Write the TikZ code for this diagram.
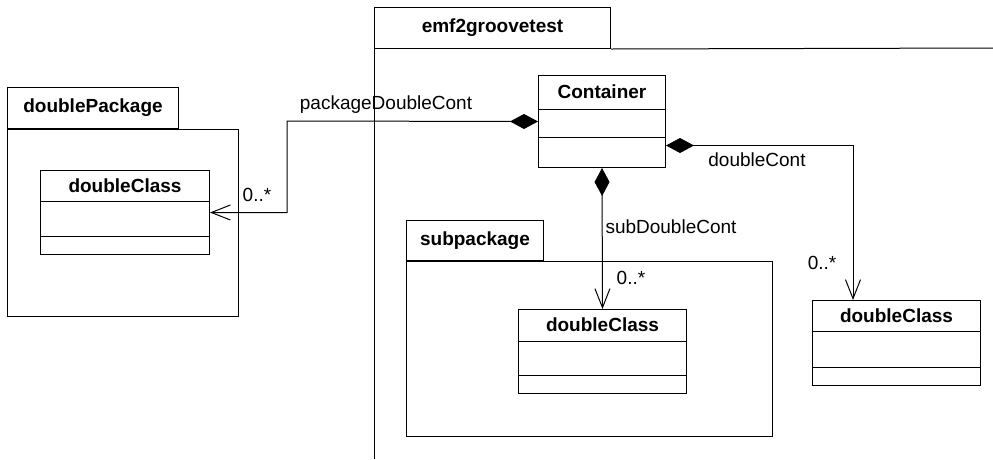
\documentclass[tikz,border=0pt]{standalone}
\usepackage{fontspec}
\setmainfont{Liberation Sans}
\usetikzlibrary{arrows.meta,calc}
\begin{document}
\begin{tikzpicture}[x=1pt,y=-1pt,line width=1pt,
  every node/.style={font=\fontsize{19}{21}\selectfont,inner sep=0pt},
  lbl/.style={font=\fontsize{19}{21}\selectfont},
  ttl/.style={font=\fontsize{19}{21}\selectfont\bfseries},
  cls/.style={draw,rectangle,minimum width=168pt,minimum height=84pt,anchor=north west},
  pkgtab/.style={draw,rectangle,anchor=north west,font=\fontsize{19}{21}\selectfont\bfseries},
  comp/.style={{Diamond[length=28pt,width=15pt,fill=black]}-{Straight Barb[length=19pt,width=15pt]}}]
\useasboundingbox (0,0) rectangle (993,459);

% outer package emf2groovetest
\node[pkgtab,minimum width=236pt,minimum height=41pt] (emftab) at (374,7) {emf2groovetest};
\coordinate (emfbl) at (374,459);
\coordinate (emftr) at (993,48);
\draw (emftab.south west) -- (emfbl);
\draw (emftab.south east) -- (emftr);

% doublePackage
\node[pkgtab,minimum width=171pt,minimum height=41pt] (dptab) at (7,87) {doublePackage};
\coordinate (dpbr) at (238,316);
\draw (dptab.south west) rectangle (dpbr);

% subpackage
\node[pkgtab,minimum width=137pt,minimum height=40pt] (sptab) at (406,220) {subpackage};
\coordinate (spbr) at (772,436);
\draw (sptab.south west) rectangle (spbr);

% Container
\node[cls,minimum width=127pt,minimum height=92pt] (cont) at (538,75) {};
\node[ttl] (contname) at ($(cont.north)+(0,17)$) {Container};
\draw ($(cont.north west)+(0,34)$) -- ($(cont.north east)+(0,34)$);
\draw ($(cont.north west)+(0,62)$) -- ($(cont.north east)+(0,62)$);

% doubleClass in doublePackage
\node[cls,minimum width=169pt] (dc1) at (40,170) {};
\node[ttl] (dc1name) at ($(dc1.north)+(0,15.5)$) {doubleClass};
\draw ($(dc1.north west)+(0,31)$) -- ($(dc1.north east)+(0,31)$);
\draw ($(dc1.north west)+(0,66)$) -- ($(dc1.north east)+(0,66)$);

% doubleClass in subpackage
\node[cls] (dc2) at (518,309) {};
\node[ttl] (dc2name) at ($(dc2.north)+(0,16)$) {doubleClass};
\draw ($(dc2.north west)+(0,32)$) -- ($(dc2.north east)+(0,32)$);
\draw ($(dc2.north west)+(0,66)$) -- ($(dc2.north east)+(0,66)$);

% doubleClass in emf2groovetest
\node[cls,minimum height=85pt] (dc3) at (812,300) {};
\node[ttl] (dc3name) at ($(dc3.north)+(0,15.5)$) {doubleClass};
\draw ($(dc3.north west)+(0,31)$) -- ($(dc3.north east)+(0,31)$);
\draw ($(dc3.north west)+(0,67)$) -- ($(dc3.north east)+(0,67)$);

% connectors
\coordinate (b1) at (287,121);
\draw[comp] (cont.west) -- (b1) |- (dc1.east);
\draw[comp] (cont.south) -- (dc2.north);
\coordinate (c3s) at ($(cont.east)+(0,24)$);
\coordinate (c3e) at ($(dc3.north west)+(41,0)$);
\draw[comp] (c3s) -| (c3e);

% labels
\node[lbl] (l1) at (386,105) {packageDoubleCont};
\node[lbl] (m1) at (257,195) {0..*};
\node[lbl] (l2) at (671,227) {subDoubleCont};
\node[lbl] (m2) at (631,278) {0..*};
\node[lbl] (l3) at (757,160) {doubleCont};
\node[lbl] (m3) at (822,263) {0..*};
\end{tikzpicture}
\end{document}
